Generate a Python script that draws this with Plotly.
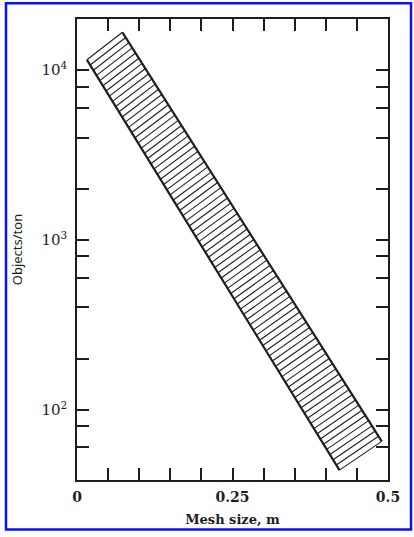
import numpy as np
import plotly.graph_objects as go

# Edges of the catch band: mesh size (m) vs objects per ton
lower_x = [0.016, 0.422]
lower_y = [11500, 44]
upper_x = [0.073, 0.490]
upper_y = [16700, 65]

# Axis ticks
x_tick_vals = [0, 0.25, 0.5]
x_tick_text = ["0", "0.25", "0.5"]
x_minor_vals = [0.05, 0.1, 0.15, 0.2, 0.3, 0.35, 0.4, 0.45]
y_tick_vals = [100, 1000, 10000]
y_tick_text = ["10<sup>2</sup>", "10<sup>3</sup>", "10<sup>4</sup>"]
y_minor_vals = [60, 80, 200, 400, 600, 800, 2000, 4000, 6000, 8000]

INK = "#1e1e1e"
N_HATCH = 80

# Hatching across the band, running from one edge to the other
t = np.linspace(0, 1, N_HATCH)
lx = lower_x[0] + t * (lower_x[1] - lower_x[0])
ly = np.log10(lower_y[0]) + t * (np.log10(lower_y[1]) - np.log10(lower_y[0]))
ux = upper_x[0] + t * (upper_x[1] - upper_x[0])
uy = np.log10(upper_y[0]) + t * (np.log10(upper_y[1]) - np.log10(upper_y[0]))
hx, hy = [], []
for a, b, c, d in zip(lx, ly, ux, uy):
    hx += [a, c, None]
    hy += [10 ** b, 10 ** d, None]

fig = go.Figure()
fig.add_trace(go.Scatter(x=hx, y=hy, mode="lines",
                         line=dict(color=INK, width=1.1), hoverinfo="skip"))
fig.add_trace(go.Scatter(x=lower_x, y=lower_y, mode="lines",
                         line=dict(color=INK, width=2.2)))
fig.add_trace(go.Scatter(x=upper_x, y=upper_y, mode="lines",
                         line=dict(color=INK, width=2.2)))

W, H = 414, 537
ML, MR, MT, MB = 77, 26, 19, 53
pw, ph = W - ML - MR, H - MT - MB


def px_to_paper(xp, yp):
    return (xp - ML) / pw, (H - MB - yp) / ph


bx0, by0 = px_to_paper(6, 534)
bx1, by1 = px_to_paper(411, 3)

tick_style = dict(ticks="inside", ticklen=12, tickwidth=1.6, tickcolor=INK)

fig.update_layout(
    width=W, height=H,
    margin=dict(l=ML, r=MR, t=MT, b=MB),
    paper_bgcolor="white", plot_bgcolor="white",
    showlegend=False,
    font=dict(family="DejaVu Serif", color=INK, size=14),
    xaxis=dict(
        range=[0, 0.5], tickvals=x_tick_vals, ticktext=x_tick_text,
        **tick_style,
        minor=dict(tickvals=x_minor_vals, **tick_style),
        showline=True, linecolor=INK, linewidth=1.6, mirror="ticks",
        showgrid=False, zeroline=False, ticklabelstandoff=3,
        tickfont=dict(family="DejaVu Serif", size=14, weight="bold"),
        title=dict(text="Mesh size, m", standoff=11,
                   font=dict(family="DejaVu Serif", size=13, weight="bold")),
    ),
    yaxis=dict(
        type="log", range=[np.log10(38.5), np.log10(20000)],
        tickvals=y_tick_vals, ticktext=y_tick_text,
        **tick_style,
        minor=dict(tickvals=y_minor_vals, **tick_style),
        showline=True, linecolor=INK, linewidth=1.6, mirror="ticks",
        showgrid=False, zeroline=False, ticklabelstandoff=5,
        tickfont=dict(family="DejaVu Serif", size=15),
        title=dict(text="Objects/ton", standoff=16,
                   font=dict(family="Noto Sans", size=13)),
    ),
    shapes=[dict(type="rect", xref="paper", yref="paper",
                 x0=bx0, y0=by0, x1=bx1, y1=by1,
                 line=dict(color="#0a10f5", width=2.5))],
)

fig.write_html("out.html")
